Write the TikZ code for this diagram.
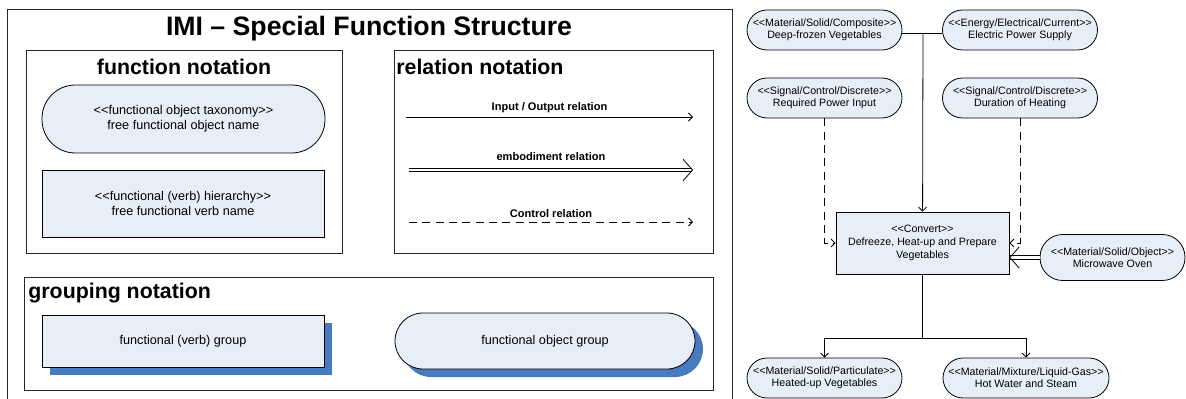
\documentclass[tikz,border=0pt]{standalone}
\usepackage{fontspec}
\setmainfont{Liberation Sans}
\usetikzlibrary{arrows.meta,shadows}
\definecolor{lightfill}{RGB}{232,238,248}
\definecolor{shadowblue}{RGB}{72,122,192}
\newcommand{\ltlt}{<\kern0pt<}
\newcommand{\gtgt}{>\kern0pt>}
\begin{document}
\begin{tikzpicture}[x=0.75pt,y=-0.75pt,line width=0.6pt,
    bigtitle/.style={font=\fontsize{20}{24}\selectfont\bfseries,inner sep=0pt},
    head/.style={font=\fontsize{16}{19}\selectfont\bfseries,inner sep=0pt},
    legendtext/.style={font=\fontsize{9.5}{11.25}\selectfont,align=center},
    flowtext/.style={font=\fontsize{8}{9}\selectfont,align=center},
    rellabel/.style={font=\fontsize{8.3}{10}\selectfont\bfseries,inner sep=0pt,above=3pt},
    panel/.style={draw=black!85},
    flowobj/.style={draw,fill=lightfill,rounded corners=15pt,inner sep=0pt,
      minimum width=116.25pt,minimum height=30pt,flowtext},
    flowverb/.style={draw,fill=lightfill,inner sep=0pt,
      minimum width=129.75pt,minimum height=46.5pt,flowtext},
    grpshadow/.style={drop shadow={shadow xshift=6pt,shadow yshift=-6pt,
      fill=shadowblue,opacity=1}},
    iorel/.style={-{Straight Barb[length=3pt,width=6pt]}},
    embrel/.style={double,double distance=2pt,-{Straight Barb[length=7pt,width=16pt]}},
    ctrlrel/.style={dash pattern=on 6pt off 4pt,-{Straight Barb[length=3pt,width=6pt]}}]
  \useasboundingbox (0,0) rectangle (1186,399);

  \draw[panel] (7,400) -- (7,9) -- (732,9) -- (732,400);
  \node[bigtitle] (title) at (369,29) {IMI – Special Function Structure};

  \draw[panel] (26,50) rectangle (342,253);
  \node[head] (fnhead) at (184,67) {function notation};
  \node[draw,fill=lightfill,rounded corners=25pt,inner sep=0pt,
    minimum width=212.25pt,minimum height=51pt,legendtext] (objsample) at (183.5,119)
    {\ltlt functional object taxonomy\gtgt\\free functional object name};
  \node[draw,fill=lightfill,inner sep=0pt,
    minimum width=211.5pt,minimum height=50.25pt,legendtext] (verbsample) at (183,203.5)
    {\ltlt functional (verb) hierarchy\gtgt\\free functional verb name};

  \draw[panel] (394,50) rectangle (713,253);
  \node[head,anchor=west] (relhead) at (396,67) {relation notation};
  \coordinate (io1) at (406,117);
  \coordinate (io2) at (693,117);
  \coordinate (emb1) at (409,170);
  \coordinate (emb2) at (693,170);
  \coordinate (ctrl1) at (409,222);
  \coordinate (ctrl2) at (693,222);
  \draw[iorel] (io1) -- node[rellabel] {Input / Output relation} (io2);
  \draw[embrel] (emb1) -- node[rellabel,above=4pt] {embodiment relation} (emb2);
  \draw[ctrlrel] (ctrl1) -- node[rellabel] {Control relation} (ctrl2);

  \draw[panel] (24,277) rectangle (713,390);
  \node[head,anchor=west] (grphead) at (28,293) {grouping notation};
  \node[draw,fill=lightfill,inner sep=0pt,grpshadow,
    minimum width=211.5pt,minimum height=39pt,legendtext] (verbgroup) at (183,341)
    {functional (verb) group};
  \node[draw,fill=lightfill,rounded corners=21pt,inner sep=0pt,grpshadow,
    minimum width=225pt,minimum height=42pt,legendtext] (objgroup) at (545,341)
    {functional object group};

  \node[flowobj] (frozen) at (824.5,30)
    {\ltlt Material/Solid/Composite\gtgt\\Deep-frozen Vegetables};
  \node[flowobj] (power) at (1020,30)
    {\ltlt Energy/Electrical/Current\gtgt\\Electric Power Supply};
  \node[flowobj] (reqpower) at (824.5,98)
    {\ltlt Signal/Control/Discrete\gtgt\\Required Power Input};
  \node[flowobj] (duration) at (1020,98)
    {\ltlt Signal/Control/Discrete\gtgt\\Duration of Heating};
  \node[flowverb,font=\fontsize{8}{9.75}\selectfont] (convert) at (922.5,243)
    {\ltlt Convert\gtgt\\Defreeze, Heat-up and Prepare\\Vegetables};
  \node[flowobj,minimum width=108.75pt,minimum height=34.5pt,rounded corners=17pt]
    (oven) at (1112.5,257.5)
    {\ltlt Material/Solid/Object\gtgt\\Microwave Oven};
  \node[flowobj] (heated) at (824.5,378)
    {\ltlt Material/Solid/Particulate\gtgt\\Heated-up Vegetables};
  \node[flowobj,minimum width=124.5pt] (steam) at (1026,378)
    {\ltlt Material/Mixture/Liquid-Gas\gtgt\\Hot Water and Steam};

  \coordinate (merge) at (923,33);
  \coordinate (split) at (922.5,338);
  \begin{scope}[iorel]
    \draw[-] (frozen.east |- merge) -- (power.west |- merge);
    \draw (merge) -- (convert);
    \draw (convert) -- (split) -| (heated);
    \draw (split) -| (steam);
  \end{scope}
  \draw[ctrlrel] (reqpower) |- (convert);
  \draw[ctrlrel] (duration) |- (convert);
  \draw[embrel] (oven.west) -- (oven.west -| convert.east);
\end{tikzpicture}
\end{document}
